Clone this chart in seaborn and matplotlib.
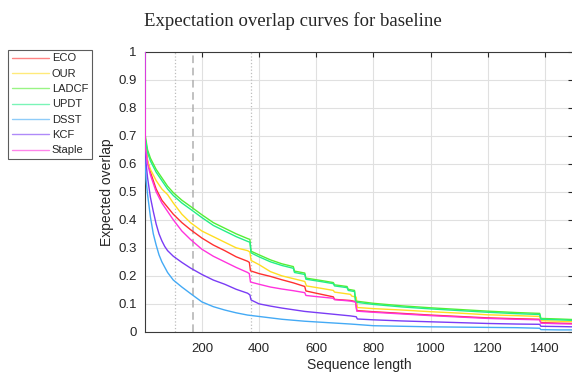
import pandas as pd
import matplotlib
matplotlib.use('Agg')
import matplotlib.pyplot as plt
import seaborn as sns

trackers = ['ECO', 'OUR', 'LADCF', 'UPDT', 'DSST', 'KCF', 'Staple']
colors = ['#ff3030', '#ffdd22', '#55ee33', '#22ee88', '#44aaf5', '#7a3cf5', '#ff33dd']

# curves (sequence length, expected overlap)
eco_x = [1, 2, 10, 20, 40, 60, 80, 100, 130, 160, 200, 240, 280, 320, 360, 366, 370, 400, 440, 480, 520,
         560, 564, 600, 660, 664, 720, 738, 742, 800, 900, 1000, 1100, 1200, 1300, 1382, 1386, 1450, 1500]
eco_y = [1.0, 0.68, 0.61, 0.57, 0.51, 0.47, 0.445, 0.42, 0.39, 0.365, 0.335, 0.31, 0.29, 0.268, 0.252, 0.248,
         0.218, 0.208, 0.198, 0.186, 0.175, 0.162, 0.146, 0.138, 0.125, 0.116, 0.112, 0.108, 0.076, 0.072,
         0.066, 0.06, 0.055, 0.05, 0.047, 0.045, 0.033, 0.031, 0.03]

our_x = [1, 2, 10, 20, 40, 60, 80, 100, 130, 160, 200, 240, 280, 320, 360, 368, 372, 400, 440, 480, 520,
         560, 566, 620, 660, 664, 720, 724, 740, 744, 800, 900, 1000, 1100, 1200, 1300, 1382, 1386, 1450, 1500]
our_y = [1.0, 0.67, 0.61, 0.58, 0.54, 0.51, 0.49, 0.46, 0.42, 0.39, 0.36, 0.34, 0.32, 0.30, 0.29, 0.285,
         0.255, 0.24, 0.215, 0.2, 0.19, 0.18, 0.164, 0.155, 0.148, 0.142, 0.134, 0.128, 0.124, 0.087, 0.083,
         0.078, 0.072, 0.067, 0.061, 0.058, 0.055, 0.040, 0.038, 0.037]

ladcf_x = [1, 2, 10, 20, 40, 60, 80, 100, 130, 160, 200, 240, 280, 320, 360, 368, 372, 400, 440, 480, 520,
           524, 560, 564, 620, 660, 664, 708, 712, 734, 738, 800, 900, 1000, 1100, 1200, 1300, 1382, 1386,
           1450, 1500]
ladcf_y = [1.0, 0.70, 0.65, 0.62, 0.58, 0.55, 0.52, 0.497, 0.47, 0.448, 0.418, 0.39, 0.37, 0.35, 0.333, 0.33,
           0.288, 0.275, 0.257, 0.243, 0.233, 0.217, 0.21, 0.192, 0.183, 0.176, 0.168, 0.162, 0.152, 0.148,
           0.110, 0.102, 0.093, 0.086, 0.080, 0.074, 0.069, 0.066, 0.048, 0.046, 0.044]

updt_x = ladcf_x
updt_y = [1.0, 0.69, 0.64, 0.61, 0.57, 0.54, 0.51, 0.487, 0.46, 0.438, 0.408, 0.38, 0.36, 0.34, 0.323, 0.32,
          0.282, 0.268, 0.25, 0.237, 0.227, 0.212, 0.205, 0.188, 0.179, 0.172, 0.164, 0.158, 0.148, 0.144,
          0.106, 0.098, 0.089, 0.082, 0.076, 0.070, 0.065, 0.062, 0.045, 0.043, 0.041]

dsst_x = [1, 2, 5, 10, 20, 30, 40, 50, 60, 80, 100, 130, 160, 180, 200, 240, 280, 320, 360, 400, 480, 560,
          640, 720, 800, 900, 1000, 1100, 1200, 1300, 1382, 1386, 1450, 1500]
dsst_y = [1.0, 0.60, 0.54, 0.49, 0.41, 0.35, 0.31, 0.275, 0.25, 0.212, 0.185, 0.16, 0.137, 0.122, 0.107, 0.09,
          0.078, 0.068, 0.06, 0.055, 0.045, 0.038, 0.033, 0.028, 0.022, 0.02, 0.018, 0.017, 0.016, 0.015,
          0.013, 0.008, 0.007, 0.007]

kcf_x = [1, 2, 5, 10, 20, 30, 40, 50, 60, 70, 80, 100, 130, 160, 200, 240, 280, 320, 360, 368, 372, 400,
         440, 480, 520, 560, 600, 660, 720, 740, 744, 800, 900, 1000, 1100, 1200, 1300, 1382, 1386, 1450,
         1500]
kcf_y = [1.0, 0.65, 0.60, 0.55, 0.48, 0.43, 0.385, 0.35, 0.325, 0.305, 0.29, 0.27, 0.248, 0.228, 0.205,
         0.185, 0.17, 0.152, 0.138, 0.132, 0.114, 0.1, 0.092, 0.085, 0.079, 0.073, 0.069, 0.063, 0.057,
         0.054, 0.046, 0.043, 0.039, 0.036, 0.033, 0.03, 0.028, 0.027, 0.02, 0.019, 0.018]

staple_x = eco_x
staple_y = [1.0, 0.66, 0.60, 0.56, 0.50, 0.46, 0.43, 0.40, 0.36, 0.33, 0.295, 0.27, 0.25, 0.23, 0.212, 0.208,
            0.178, 0.17, 0.16, 0.153, 0.147, 0.14, 0.13, 0.126, 0.12, 0.115, 0.11, 0.106, 0.074, 0.07,
            0.064, 0.058, 0.053, 0.048, 0.045, 0.043, 0.031, 0.029, 0.028]

xs = [eco_x, our_x, ladcf_x, updt_x, dsst_x, kcf_x, staple_x]
ys = [eco_y, our_y, ladcf_y, updt_y, dsst_y, kcf_y, staple_y]

dotted_marks = [107, 372]
dashed_mark = 168

rows = []
for name, xv, yv in zip(trackers, xs, ys):
    for i, (a, b) in enumerate(zip(xv, yv)):
        rows.append({'tracker': name, 'order': i, 'x': a, 'y': b})
df = pd.DataFrame(rows)

sns.set_style('whitegrid', {'grid.color': '#e0e0e0', 'axes.edgecolor': '#3a3a3a'})
plt.rcParams['font.family'] = ['Liberation Sans', 'DejaVu Sans']

fig = plt.figure(figsize=(5.72, 3.75), dpi=100)
ax = fig.add_axes([0.2535, 0.115, 0.749, 0.747])

for x in dotted_marks:
    ax.axvline(x, color='#bdbdbd', linestyle=':', linewidth=0.9, zorder=1)
ax.axvline(dashed_mark, color='#b0b0b0', linestyle=(0, (5, 3)), linewidth=1.1, zorder=1)

sns.lineplot(data=df, x='x', y='y', hue='tracker', hue_order=trackers, palette=colors,
             estimator=None, sort=False, linewidth=1.0, ax=ax, zorder=3)

ax.set_xlim(1, 1500)
ax.set_ylim(0, 1)
ax.set_xticks([200, 400, 600, 800, 1000, 1200, 1400])
ax.set_yticks([i / 10 for i in range(11)])
ax.set_yticklabels(['0', '0.1', '0.2', '0.3', '0.4', '0.5', '0.6', '0.7', '0.8', '0.9', '1'])
ax.tick_params(direction='in', length=3.5, width=0.8, top=True, right=True, labelsize=9.5,
               colors='#262626')
ax.tick_params(axis='x', pad=8)
ax.tick_params(axis='y', pad=6)
for s in ax.spines.values():
    s.set_linewidth(0.8)
ax.set_xlabel('Sequence length', fontsize=10, color='#262626', labelpad=2)
ax.set_ylabel('Expected overlap', fontsize=10, color='#262626', labelpad=3)

handles, labels = ax.get_legend_handles_labels()
ax.legend_.remove()
leg = fig.legend(handles, labels, loc='upper left', bbox_to_anchor=(0.014, 0.868),
                 fontsize=8, frameon=True, fancybox=False, edgecolor='#333333',
                 handlelength=3.3, handletextpad=0.3, labelspacing=0.48, borderpad=0.35,
                 borderaxespad=0)
leg.get_frame().set_linewidth(0.8)
for line in leg.get_lines():
    line.set_linewidth(1.0)
    line.set_alpha(0.6)

fig.text(0.512, 0.945, 'Expectation overlap curves for baseline', ha='center', va='center',
         fontsize=13.5, family=['Liberation Serif', 'DejaVu Serif'])

fig.savefig('out.png', dpi=100)
